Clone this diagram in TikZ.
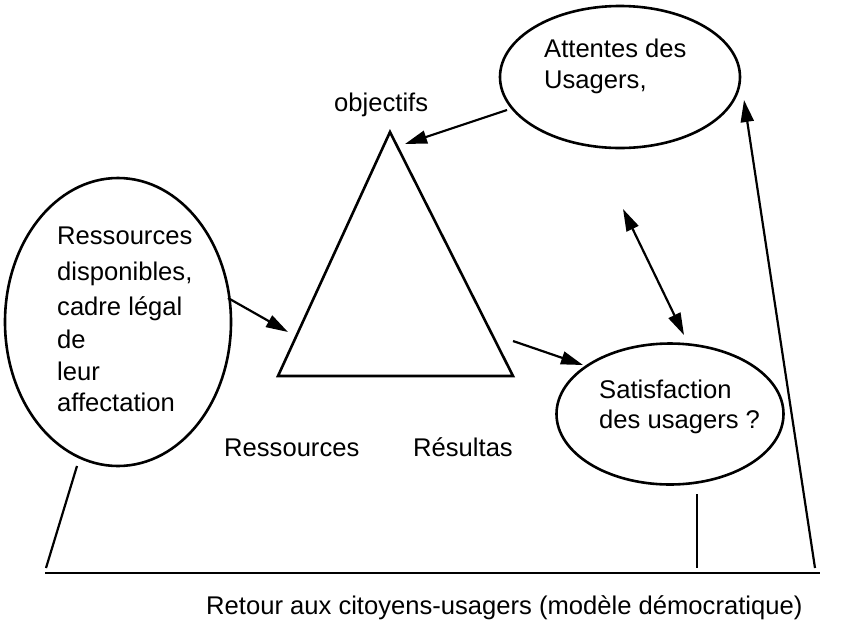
\documentclass[tikz,border=0pt]{standalone}
\usepackage{fontspec}
\setmainfont{Liberation Sans}
\usetikzlibrary{shapes.geometric,arrows.meta}
\tikzset{
  oval/.style={draw, ellipse, line width=2.6pt, inner sep=0pt},
  lbl/.style={anchor=base west, inner sep=0pt, font=\fontsize{25.6}{30}\selectfont},
  edge/.style={line width=2.2pt},
  arr/.style={line width=2.2pt, -{Triangle[length=22pt,width=13pt]}},
  darr/.style={line width=2.2pt, {Triangle[length=22pt,width=13pt]}-{Triangle[length=22pt,width=13pt]}},
}
\begin{document}
\begin{tikzpicture}[x=1pt,y=-1pt]
\useasboundingbox (0,0) rectangle (857,622);
% ellipses
\node[oval, minimum width=226pt, minimum height=288pt] (res) at (118,322) {};
\node[oval, minimum width=240pt, minimum height=142pt] (att) at (620,77) {};
\node[oval, minimum width=227pt, minimum height=141pt] (sat) at (670,414) {};
% triangle
\coordinate (tA) at (390,132);
\coordinate (tL) at (278,376);
\coordinate (tR) at (513,376);
\draw[line width=2.6pt, line join=miter] (tA) -- (tL) -- (tR) -- cycle;
% texts
\node[lbl] (r1) at (57,244) {Ressources};
\node[lbl] (r2) at (57,280) {disponibles,};
\node[lbl] (r3) at (57,315) {cadre légal};
\node[lbl] (r4) at (57,348) {de};
\node[lbl] (r5) at (57,380) {leur};
\node[lbl] (r6) at (57,411) {affectation};
\node[lbl] (a1) at (544,57) {Attentes des};
\node[lbl] (a2) at (544,88) {Usagers,};
\node[lbl] (s1) at (599,398) {Satisfaction};
\node[lbl] (s2) at (599,428) {des usagers ?};
\node[lbl] (obj) at (334,111) {objectifs};
\node[lbl] (lres) at (224,456) {Ressources};
\node[lbl] (lrsl) at (413,456) {Résultas};
\node[lbl] (ret) at (206,614) {Retour aux citoyens-usagers (modèle démocratique)};
% connector points
\coordinate (p1s) at (507,110);
\coordinate (p1e) at (405,144);
\coordinate (p2s) at (228,298);
\coordinate (p2e) at (288,332);
\coordinate (p3s) at (513,341);
\coordinate (p3e) at (583,365);
\coordinate (p4s) at (623,209);
\coordinate (p4e) at (684,335);
\coordinate (p5s) at (815,568);
\coordinate (p5e) at (744,100);
\coordinate (hL) at (45,573);
\coordinate (hR) at (820,573);
\coordinate (lt) at (77,466);
\coordinate (lb) at (46,568);
\coordinate (vt) at (697,494);
\coordinate (vb) at (697,568);
% connectors
\draw[arr] (p1s) -- (p1e);
\draw[arr] (p2s) -- (p2e);
\draw[arr] (p3s) -- (p3e);
\draw[darr] (p4s) -- (p4e);
\draw[arr] (p5s) -- (p5e);
\draw[line width=2.8pt] (hL) -- (hR);
\draw[edge] (lt) -- (lb);
\draw[edge] (vt) -- (vb);
\end{tikzpicture}
\end{document}
